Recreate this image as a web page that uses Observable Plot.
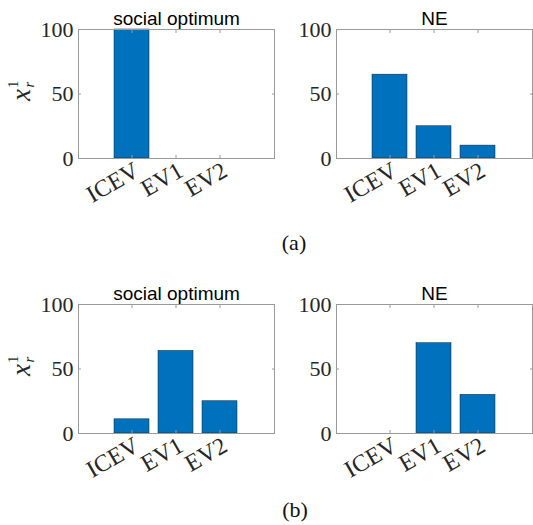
<!DOCTYPE html>
<html>
<head>
<meta charset="utf-8">
<script src="https://cdn.jsdelivr.net/npm/d3@7"></script>
<script src="https://cdn.jsdelivr.net/npm/@observablehq/plot@0.6"></script>
<style>
  html, body { margin: 0; padding: 0; background: #fff; }
  #root { position: relative; width: 533px; height: 525px; overflow: hidden; }
  .panel { position: absolute; }
  .rowlab { position: absolute; font-family: "Liberation Serif", serif; font-size: 22px; color: #111; transform: translate(-50%, -50%); }
  .ylab { position: absolute; }
</style>
</head>
<body>
<div id="root"></div>
<script>
// ---- data ----
const categories = ["ICEV", "EV1", "EV2"];
const panelTitles = ["social optimum", "NE"];
const rowLabels = ["(a)", "(b)"];
const socialOptA = [100, 0, 0];
const neA = [65, 25, 10];
const socialOptB = [11, 64, 25];
const neB = [0, 70, 30];
const yTicks = [0, 50, 100];

const root = document.getElementById("root");

function panel(values, title, geom) {
  const data = categories.map((c, i) => ({cat: c, value: values[i]}));
  const fig = Plot.plot({
    width: geom.width,
    height: 215,
    marginLeft: geom.ml,
    marginRight: geom.mr,
    marginTop: 29,
    marginBottom: 57,
    style: {fontFamily: "Liberation Serif, serif", fontSize: "22px", color: "#262626", background: "transparent", overflow: "visible"},
    x: {domain: categories, paddingInner: 0.2, paddingOuter: 0.78, label: null},
    y: {domain: [0, 100], label: null},
    marks: [
      Plot.barY(data, {x: "cat", y: "value", filter: d => d.value > 0, fill: "#0072BD", stroke: "#1f1f1f", strokeWidth: 0.5}),
      Plot.frame({stroke: "#9a9a9a"}),
      Plot.axisY({anchor: "left", ticks: yTicks, tickSize: 0, tickPadding: 5, label: null}),
      Plot.axisY({anchor: "left", ticks: yTicks, tickSize: -3, tickFormat: () => "", label: null, stroke: "#9a9a9a"}),
      Plot.axisY({anchor: "right", ticks: yTicks, tickSize: -3, tickFormat: () => "", label: null, stroke: "#9a9a9a"}),
      Plot.axisX({anchor: "bottom", tickSize: 0, tickPadding: 10, tickRotate: -30, dx: 5, fontSize: 24, label: null}),
      Plot.axisX({anchor: "bottom", tickSize: -3, tickFormat: () => "", label: null, stroke: "#9a9a9a"}),
      Plot.axisX({anchor: "top", tickSize: -3, tickFormat: () => "", label: null, stroke: "#9a9a9a"}),
      Plot.text([title], {frameAnchor: "top", lineAnchor: "bottom", dy: -5, fontFamily: "Liberation Sans, Arial, sans-serif", fontSize: 19, fill: "#000", letterSpacing: "1.3px"})
    ]
  });
  fig.classList.add("panel");
  fig.style.left = geom.left + "px";
  fig.style.top = geom.top + "px";
  root.appendChild(fig);
}

panel(socialOptA, panelTitles[0], {left: 0, top: 0, width: 280, ml: 78, mr: 6});
panel(neA, panelTitles[1], {left: 270, top: 0, width: 263, ml: 66, mr: 1});
panel(socialOptB, panelTitles[0], {left: 0, top: 275, width: 280, ml: 78, mr: 6});
panel(neB, panelTitles[1], {left: 270, top: 275, width: 263, ml: 66, mr: 1});

// y labels x_r^1
[88, 363].forEach(cy => {
  const ns = "http://www.w3.org/2000/svg";
  const svg = document.createElementNS(ns, "svg");
  svg.setAttribute("width", 40); svg.setAttribute("height", 50);
  svg.setAttribute("class", "ylab");
  svg.style.left = "0px"; svg.style.top = (cy - 25) + "px";
  svg.innerHTML = '<text transform="translate(30,38) rotate(-90)" font-family="Liberation Serif, serif" fill="#262626">' +
    '<tspan font-style="italic" font-size="27">x</tspan>' +
    '<tspan font-size="15" dy="-12" dx="1">1</tspan>' +
    '<tspan font-style="italic" font-size="15" dx="-7" dy="16">r</tspan></text>';
  root.appendChild(svg);
});

// row labels
[[294, 243], [295, 510]].forEach(([x, y], i) => {
  const d = document.createElement("div");
  d.className = "rowlab";
  d.style.left = x + "px"; d.style.top = y + "px";
  d.textContent = rowLabels[i];
  root.appendChild(d);
});
</script>
</body>
</html>
